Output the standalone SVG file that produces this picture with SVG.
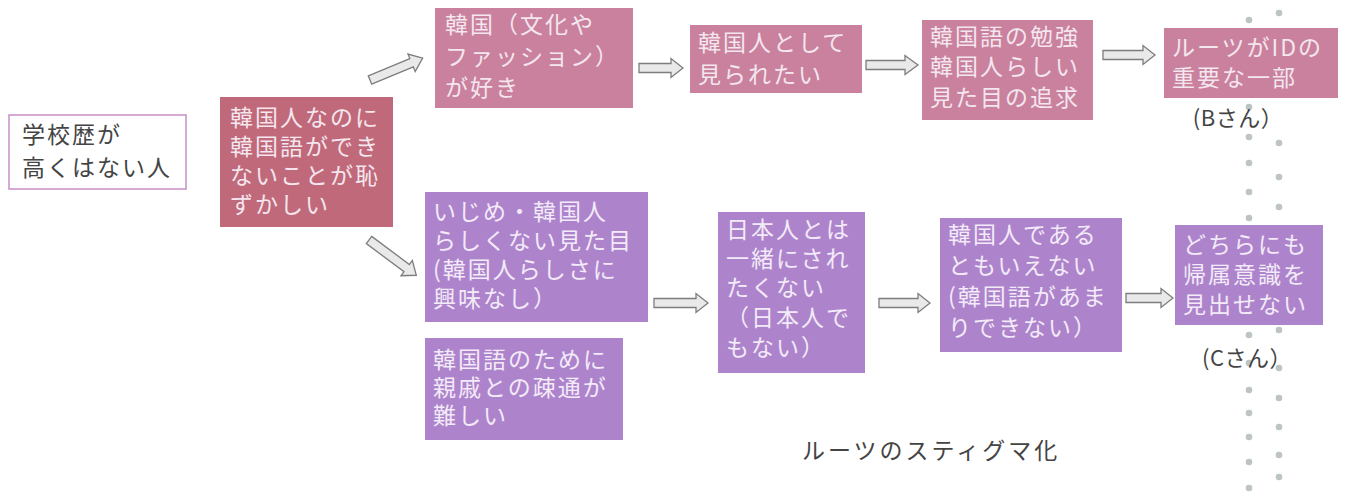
<svg xmlns="http://www.w3.org/2000/svg" width="1345" height="493" viewBox="0 0 1345 493">
<style>
text{font-family:"Noto Sans CJK JP","Noto Sans",sans-serif;font-size:23px;letter-spacing:2px}
.dk{fill:#444}
.lt{fill:#f4e6ee}
.lp{fill:#f3eaf8}
.rose{fill:#c0697a}
.pink{fill:#c9819e}
.purp{fill:#ad84cc}
.arr{fill:#e9e9e9;stroke:#7d7d7d;stroke-width:1.3;stroke-linejoin:miter}
.dot{fill:#bcc4c4}
.lab{font-size:22px;letter-spacing:0.5px;fill:#444}
</style>
<rect width="1345" height="493" fill="#ffffff"/>
<g id="dots">
<circle class="dot" cx="1249" cy="20" r="3.3"/><circle class="dot" cx="1249" cy="50" r="3.3"/>
<circle class="dot" cx="1249" cy="107" r="3.3"/><circle class="dot" cx="1249" cy="137" r="3.3"/>
<circle class="dot" cx="1249" cy="163" r="3.3"/><circle class="dot" cx="1249" cy="192" r="3.3"/>
<circle class="dot" cx="1249" cy="218" r="3.3"/><circle class="dot" cx="1249" cy="335" r="3.3"/>
<circle class="dot" cx="1249" cy="363" r="3.3"/><circle class="dot" cx="1249" cy="390" r="3.3"/>
<circle class="dot" cx="1249" cy="413" r="3.3"/><circle class="dot" cx="1249" cy="437" r="3.3"/>
<circle class="dot" cx="1249" cy="462" r="3.3"/><circle class="dot" cx="1249" cy="488" r="3.3"/>
<circle class="dot" cx="1279" cy="13" r="3.3"/><circle class="dot" cx="1279" cy="143" r="3.3"/>
<circle class="dot" cx="1279" cy="177" r="3.3"/><circle class="dot" cx="1279" cy="207" r="3.3"/>
<circle class="dot" cx="1279" cy="330" r="3.3"/><circle class="dot" cx="1279" cy="368" r="3.3"/>
<circle class="dot" cx="1279" cy="398" r="3.3"/><circle class="dot" cx="1279" cy="427" r="3.3"/>
<circle class="dot" cx="1279" cy="455" r="3.3"/><circle class="dot" cx="1279" cy="477" r="3.3"/>
</g>
<g id="connectors">
<path class="arr" transform="translate(370,80) rotate(-22.5)" d="M0,-4.5 H45 V-9.5 L57,0 L45,9.5 V4.5 H0 Z"/>
<path class="arr" transform="translate(369,240) rotate(36.7)" d="M0,-4.5 H47 V-9.5 L59,0 L47,9.5 V4.5 H0 Z"/>
<path class="arr" transform="translate(639,68)" d="M0,-4.5 H32 V-9.5 L44,0 L32,9.5 V4.5 H0 Z"/>
<path class="arr" transform="translate(866,65)" d="M0,-4.5 H39 V-9.5 L52,0 L39,9.5 V4.5 H0 Z"/>
<path class="arr" transform="translate(1103,55)" d="M0,-4.5 H40 V-9.5 L52,0 L40,9.5 V4.5 H0 Z"/>
<path class="arr" transform="translate(654,303)" d="M0,-4.5 H42 V-9.5 L54,0 L42,9.5 V4.5 H0 Z"/>
<path class="arr" transform="translate(879,303)" d="M0,-4.5 H39 V-9.5 L51,0 L39,9.5 V4.5 H0 Z"/>
<path class="arr" transform="translate(1126,298)" d="M0,-4.5 H35 V-9.5 L47,0 L35,9.5 V4.5 H0 Z"/>
</g>
<g id="n-school">
<rect x="9" y="115" width="177" height="74" fill="#fff" stroke="#c78fc8" stroke-width="1.5"/>
<text class="dk" x="22" y="143">学校歴が</text>
<text class="dk" x="22" y="176">高くはない人</text>
</g>
<g id="n-shame">
<rect class="rose" x="220" y="97" width="173" height="130"/>
<text class="lt" x="230" y="126">韓国人なのに</text>
<text class="lt" x="230" y="155">韓国語ができ</text>
<text class="lt" x="230" y="184">ないことが恥</text>
<text class="lt" x="230" y="213">ずかしい</text>
</g>
<g id="n-like">
<rect class="pink" x="435" y="8" width="198" height="100"/>
<text class="lt" x="445" y="33">韓国（文化や</text>
<text class="lt" x="445" y="65">ファッション）</text>
<text class="lt" x="445" y="96">が好き</text>
</g>
<g id="n-seen">
<rect class="pink" x="690" y="25" width="172" height="68"/>
<text class="lt" x="698" y="51">韓国人として</text>
<text class="lt" x="698" y="83">見られたい</text>
</g>
<g id="n-study">
<rect class="pink" x="922" y="20" width="171" height="100"/>
<text class="lt" x="930" y="45">韓国語の勉強</text>
<text class="lt" x="930" y="75">韓国人らしい</text>
<text class="lt" x="930" y="106">見た目の追求</text>
</g>
<g id="n-roots">
<rect class="pink" x="1164" y="28" width="174" height="70"/>
<text class="lt" x="1172" y="56">ルーツがIDの</text>
<text class="lt" x="1172" y="86">重要な一部</text>
<text class="lab" x="1238" y="126" text-anchor="middle">(Bさん）</text>
</g>
<g id="n-bully">
<rect class="purp" x="425" y="192" width="223" height="130"/>
<text class="lp" x="433" y="220">いじめ・韓国人</text>
<text class="lp" x="433" y="249">らしくない見た目</text>
<text class="lp" x="433" y="278">(韓国人らしさに</text>
<text class="lp" x="433" y="307">興味なし）</text>
</g>
<g id="n-relatives">
<rect class="purp" x="425" y="338" width="198" height="102"/>
<text class="lp" x="433" y="368">韓国語のために</text>
<text class="lp" x="433" y="396">親戚との疎通が</text>
<text class="lp" x="433" y="424">難しい</text>
</g>
<g id="n-notjp">
<rect class="purp" x="718" y="212" width="147" height="161"/>
<text class="lp" x="726" y="238">日本人とは</text>
<text class="lp" x="726" y="267">一緒にされ</text>
<text class="lp" x="726" y="296">たくない</text>
<text class="lp" x="726" y="326">（日本人で</text>
<text class="lp" x="726" y="356">もない）</text>
</g>
<g id="n-notkr">
<rect class="purp" x="940" y="218" width="182" height="134"/>
<text class="lp" x="948" y="243">韓国人である</text>
<text class="lp" x="948" y="274">ともいえない</text>
<text class="lp" x="948" y="305">(韓国語があま</text>
<text class="lp" x="948" y="336">りできない）</text>
</g>
<g id="n-nowhere">
<rect class="purp" x="1175" y="225" width="148" height="100"/>
<text class="lp" x="1183" y="253">どちらにも</text>
<text class="lp" x="1183" y="283">帰属意識を</text>
<text class="lp" x="1183" y="313">見出せない</text>
<text class="lab" x="1247" y="366" text-anchor="middle">(Cさん）</text>
</g>
<g id="caption">
<text class="lab" x="802" y="459" style="font-size:23px;letter-spacing:3px">ルーツのスティグマ化</text>
</g>
</svg>
